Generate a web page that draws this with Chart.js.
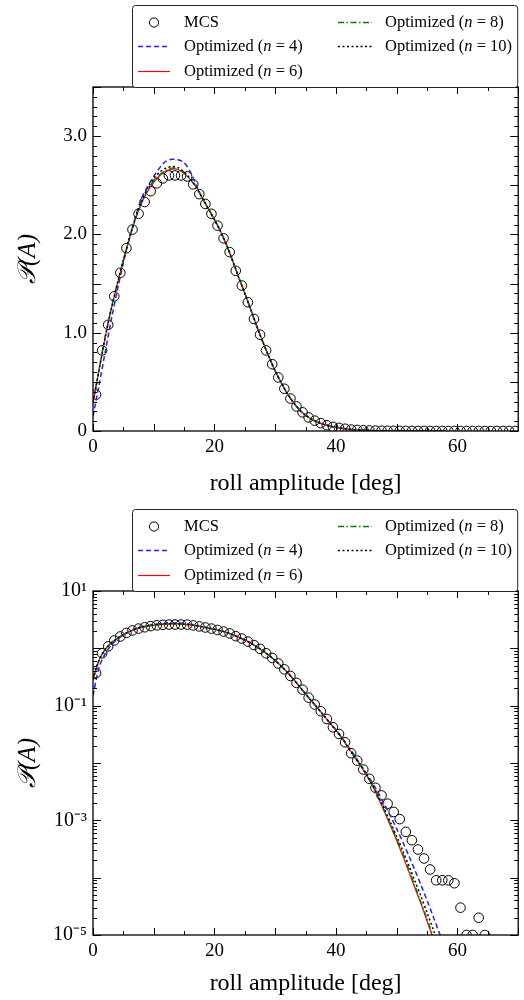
<!DOCTYPE html>
<html>
<head>
<meta charset="utf-8">
<script src="https://cdn.jsdelivr.net/npm/chart.js@4.4.1/dist/chart.umd.min.js"></script>
<style>
  body { margin: 0; background: #fff; }
  .panel { position: absolute; left: 0; width: 524px; height: 500px; }
</style>
</head>
<body>
<div class="panel" style="top:0"><canvas id="linChart"></canvas></div>
<div class="panel" style="top:500px"><canvas id="logChart"></canvas></div>
<script>
// histogram bin centres of the MCS result [deg]
const mcsAmplitude = [
  0.5, 1.5, 2.5, 3.5, 4.5, 5.5, 6.5, 7.5, 8.5, 9.5,
  10.5, 11.5, 12.5, 13.5, 14.5, 15.5, 16.5, 17.5, 18.5, 19.5,
  20.5, 21.5, 22.5, 23.5, 24.5, 25.5, 26.5, 27.5, 28.5, 29.5,
  30.5, 31.5, 32.5, 33.5, 34.5, 35.5, 36.5, 37.5, 38.5, 39.5,
  40.5, 41.5, 42.5, 43.5, 44.5, 45.5, 46.5, 47.5, 48.5, 49.5,
  50.5, 51.5, 52.5, 53.5, 54.5, 55.5, 56.5, 57.5, 58.5, 59.5,
  60.5, 61.5, 62.5, 63.5, 64.5, 65.5, 66.5, 67.5, 68.5, 69.5
];
const mcsDensity = [
  0.37, 0.82, 1.08, 1.37, 1.61, 1.86, 2.05, 2.21, 2.33, 2.44,
  2.52, 2.57, 2.60, 2.60, 2.60, 2.59, 2.51, 2.41, 2.31, 2.21,
  2.09, 1.96, 1.82, 1.63, 1.48, 1.31, 1.14, 0.98, 0.82, 0.68,
  0.545, 0.43, 0.33, 0.25, 0.19, 0.138, 0.105, 0.08, 0.0586, 0.042,
  0.0321, 0.023, 0.0148, 0.011, 0.0077, 0.0053, 0.0037, 0.00272, 0.00195, 0.0014,
  0.00105, 0.00063, 0.00045, 0.00031, 0.000216, 0.000139, 9e-5, 9e-5, 9e-5, 8e-5,
  3e-5, 1e-5, 1e-5, 2e-5, 1e-5, 0, 0, 0, 0, 0
];

// amplitudes where the optimized pdfs are sampled [deg]
const fitAmplitude = [
  0, 1, 2, 3, 4, 5, 6, 7, 8, 9,
  10, 11, 12, 13, 14, 15, 16, 17, 18, 19,
  20, 21, 22, 23, 24, 25, 26, 27, 28, 29,
  30, 31, 32, 33, 34, 35, 36, 37, 38, 39,
  40, 41, 42, 43, 44, 45, 46, 47, 48, 49,
  50, 51, 52, 53, 54, 55, 56, 57, 58
];
const optN4 = [
  0.15, 0.47, 0.80, 1.13, 1.43, 1.71, 1.96, 2.18, 2.37, 2.49,
  2.59, 2.68, 2.745, 2.765, 2.76, 2.73, 2.64, 2.50, 2.37, 2.26,
  2.15, 2.03, 1.89, 1.73, 1.56, 1.40, 1.23, 1.06, 0.90, 0.75,
  0.61, 0.49, 0.38, 0.29, 0.215, 0.16, 0.12, 0.09, 0.067, 0.050,
  0.038, 0.0275, 0.0195, 0.0138, 0.0095, 0.0066, 0.0045, 0.00295, 0.0019, 0.00117,
  0.00071, 0.00042, 0.00024, 0.000135, 7.4e-5, 4.0e-5, 2.1e-5, 1.1e-5, 5.6e-6
];
const optN6 = [
  0.28, 0.62, 0.95, 1.24, 1.49, 1.73, 1.96, 2.16, 2.32, 2.44,
  2.53, 2.60, 2.645, 2.665, 2.66, 2.62, 2.56, 2.48, 2.37, 2.26,
  2.15, 2.03, 1.89, 1.73, 1.56, 1.40, 1.23, 1.06, 0.90, 0.75,
  0.61, 0.49, 0.38, 0.29, 0.215, 0.16, 0.12, 0.09, 0.067, 0.050,
  0.037, 0.027, 0.0186, 0.0129, 0.0091, 0.0062, 0.0040, 0.0024, 0.00138, 0.00079,
  0.00044, 0.00024, 0.000126, 6.6e-5, 3.5e-5, 1.74e-5, 8.7e-6, 4.3e-6, 2e-6
];
const optN8 = [
  0.30, 0.63, 0.96, 1.25, 1.50, 1.74, 1.96, 2.16, 2.32, 2.45,
  2.54, 2.61, 2.655, 2.675, 2.665, 2.625, 2.56, 2.48, 2.37, 2.26,
  2.15, 2.03, 1.89, 1.73, 1.56, 1.40, 1.23, 1.06, 0.90, 0.75,
  0.61, 0.49, 0.38, 0.29, 0.215, 0.16, 0.12, 0.09, 0.067, 0.050,
  0.037, 0.027, 0.0187, 0.0130, 0.0092, 0.0063, 0.0041, 0.0025, 0.00145, 0.00083,
  0.00047, 0.00026, 0.000138, 7.2e-5, 3.7e-5, 1.9e-5, 9.5e-6, 4.7e-6, 2.2e-6
];
const optN10 = [
  0.29, 0.62, 0.95, 1.24, 1.50, 1.74, 1.97, 2.17, 2.34, 2.47,
  2.57, 2.635, 2.675, 2.69, 2.68, 2.635, 2.57, 2.48, 2.37, 2.26,
  2.15, 2.03, 1.89, 1.73, 1.56, 1.40, 1.23, 1.06, 0.90, 0.75,
  0.61, 0.49, 0.38, 0.29, 0.215, 0.16, 0.12, 0.09, 0.067, 0.050,
  0.037, 0.027, 0.0188, 0.0131, 0.0093, 0.0064, 0.0042, 0.00263, 0.00155, 0.00091,
  0.00052, 0.000295, 0.000162, 8.7e-5, 4.7e-5, 2.45e-5, 1.26e-5, 6.3e-6, 3.2e-6
];

// tick labels
const xLabelValues = [0, 20, 40, 60];
const linLabelValues = [0, 1, 2, 3];
const linLabelTexts = ['0', '1.0', '2.0', '3.0'];
const logLabelValues = [1e1, 1e-1, 1e-3, 1e-5];
const logLabelTexts = ['10¹', '10⁻¹', '10⁻³', '10⁻⁵'];

const SERIF = "'Liberation Serif', 'Times New Roman', serif";
Chart.defaults.font.family = SERIF;
Chart.defaults.color = '#000';

function pts(xs, ys, dropZero) {
  return xs.map((x, i) => ({ x: x, y: (dropZero && ys[i] <= 0) ? null : ys[i] }));
}

function makeDatasets(logMode) {
  const curve = (label, ys, color, width, dash, order, slot) => ({
    label: label,
    data: pts(fitAmplitude, ys, false),
    showLine: true,
    borderColor: color,
    borderWidth: width,
    borderDash: dash,
    pointRadius: 0,
    fill: false,
    tension: 0.3,
    clip: 0,
    order: order,
    legendSlot: slot
  });
  return [
    {
      label: 'MCS',
      data: pts(mcsAmplitude, mcsDensity, logMode),
      showLine: false,
      pointStyle: 'circle',
      pointRadius: 4.8,
      pointBorderWidth: 1,
      pointBorderColor: '#000',
      pointBackgroundColor: 'rgba(0,0,0,0)',
      clip: 0,
      order: 5,
      legendSlot: [0, 0]
    },
    curve('Optimized (n = 4)', optN4, '#1f1fff', 1.5, [5, 3], 4, [0, 1]),
    curve('Optimized (n = 6)', optN6, '#ff0000', 1.2, [], 3, [0, 2]),
    curve('Optimized (n = 8)', optN8, '#008000', 1.4, [6, 2.5, 1.5, 2.5], 2, [1, 0]),
    curve('Optimized (n = 10)', optN10, '#000000', 1.5, [2, 2.5], 1, [1, 1])
  ];
}

function isDecade(v) {
  const l = Math.log10(v);
  return Math.abs(l - Math.round(l)) < 1e-6;
}

// inward tick marks on all four sides plus the closed frame
const axisFrame = {
  id: 'axisFrame',
  afterDraw(chart) {
    const { ctx, chartArea: a } = chart;
    const xs = chart.scales.x, ys = chart.scales.y;
    const logMode = ys.type === 'logarithmic';
    ctx.save();
    ctx.strokeStyle = '#000';
    ctx.lineWidth = 1;
    ctx.beginPath();
    xs.ticks.forEach(t => {
      const px = Math.round(xs.getPixelForValue(t.value)) + 0.5;
      const len = t.value % 10 === 0 ? 7 : 4;
      ctx.moveTo(px, a.bottom); ctx.lineTo(px, a.bottom - len);
      ctx.moveTo(px, a.top); ctx.lineTo(px, a.top + len);
    });
    ys.ticks.forEach(t => {
      const py = Math.round(ys.getPixelForValue(t.value)) + 0.5;
      const major = logMode ? isDecade(t.value) : Math.abs(t.value * 2 - Math.round(t.value * 2)) < 1e-6;
      const len = major ? 8 : 4;
      ctx.moveTo(a.left, py); ctx.lineTo(a.left + len, py);
      ctx.moveTo(a.right, py); ctx.lineTo(a.right - len, py);
    });
    ctx.stroke();
    ctx.lineWidth = 1.3;
    ctx.strokeRect(a.left, a.top, a.right - a.left, a.bottom - a.top);
    ctx.restore();
  }
};

// two-column legend box sitting on top of the plot frame
const boxLegend = {
  id: 'boxLegend',
  afterDraw(chart) {
    const { ctx, chartArea: a } = chart;
    const boxL = 132, boxR = a.right - 1, boxB = a.top, boxT = a.top - 82;
    const rows = [16.5, 41, 66];
    const cols = [{ l0: 138, l1: 170, tx: 184 }, { l0: 338, l1: 372, tx: 385 }];
    ctx.save();
    ctx.fillStyle = '#fff';
    ctx.strokeStyle = '#222';
    ctx.lineWidth = 1;
    ctx.beginPath();
    ctx.roundRect(boxL + 0.5, boxT + 0.5, boxR - boxL, boxB - boxT, 3);
    ctx.fill();
    ctx.stroke();
    chart.data.datasets.forEach(ds => {
      const c = cols[ds.legendSlot[0]];
      const y = Math.round(boxT + rows[ds.legendSlot[1]]) + 0.5;
      if (ds.showLine) {
        ctx.beginPath();
        ctx.strokeStyle = ds.borderColor;
        ctx.lineWidth = ds.borderWidth;
        ctx.setLineDash(ds.borderDash);
        ctx.moveTo(c.l0, y); ctx.lineTo(c.l1, y);
        ctx.stroke();
        ctx.setLineDash([]);
      } else {
        ctx.beginPath();
        ctx.strokeStyle = '#000';
        ctx.lineWidth = 1;
        ctx.arc((c.l0 + c.l1) / 2, y, 4.6, 0, Math.PI * 2);
        ctx.stroke();
      }
      ctx.fillStyle = '#000';
      ctx.textBaseline = 'middle';
      ctx.textAlign = 'left';
      let x = c.tx;
      ds.label.split(/\b(n)\b/).forEach(part => {
        ctx.font = (part === 'n' ? 'italic ' : '') + '16.5px ' + SERIF;
        ctx.fillText(part, x, y);
        x += ctx.measureText(part).width;
      });
    });
    ctx.restore();
  }
};

function xAxis() {
  return {
    type: 'linear',
    min: 0,
    max: 70,
    grid: { display: false, drawTicks: false },
    border: { display: false },
    ticks: {
      stepSize: 5,
      autoSkip: false,
      maxRotation: 0,
      padding: 5,
      font: { size: 19 },
      callback: v => xLabelValues.includes(v) ? String(v) : ''
    },
    title: { display: true, text: 'roll amplitude [deg]', font: { size: 24 }, padding: { top: 0, bottom: 2 } },
    afterFit(scale) { scale.height = scale.chart.height - scale.chart.options.layout.padding.top - 344; }
  };
}

const yTitle = { display: true, text: '𝒫(A)', font: { size: 25, style: 'italic' }, padding: { top: 13, bottom: 0 } };

new Chart(document.getElementById('linChart'), {
  type: 'scatter',
  data: { datasets: makeDatasets(false) },
  options: {
    responsive: true,
    maintainAspectRatio: false,
    animation: false,
    devicePixelRatio: 1,
    layout: { padding: { top: 87, right: 5, left: 0, bottom: 0 } },
    plugins: { legend: { display: false }, tooltip: { enabled: false } },
    scales: {
      x: xAxis(),
      y: {
        type: 'linear',
        min: 0,
        max: 3.5,
        grid: { display: false, drawTicks: false },
        border: { display: false },
        ticks: {
          stepSize: 0.1,
          autoSkip: false,
          padding: 6,
          font: { size: 19 },
          callback: v => {
            const i = linLabelValues.findIndex(t => Math.abs(t - v) < 1e-6);
            return i < 0 ? '' : linLabelTexts[i];
          }
        },
        title: yTitle,
        afterFit(scale) { scale.width = 93; }
      }
    }
  },
  plugins: [axisFrame, boxLegend]
});

new Chart(document.getElementById('logChart'), {
  type: 'scatter',
  data: { datasets: makeDatasets(true) },
  options: {
    responsive: true,
    maintainAspectRatio: false,
    animation: false,
    devicePixelRatio: 1,
    layout: { padding: { top: 91, right: 5, left: 0, bottom: 0 } },
    plugins: { legend: { display: false }, tooltip: { enabled: false } },
    scales: {
      x: xAxis(),
      y: {
        type: 'logarithmic',
        min: 1e-5,
        max: 10,
        grid: { display: false, drawTicks: false },
        border: { display: false },
        afterBuildTicks(scale) {
          const t = [];
          for (let e = -5; e <= 1; e++) {
            for (let m = 1; m <= 9; m++) {
              const v = m * Math.pow(10, e);
              if (v <= 10.0000001) t.push({ value: v });
            }
          }
          scale.ticks = t;
        },
        ticks: {
          autoSkip: false,
          padding: 6,
          font: { size: 20 },
          callback: v => {
            const i = logLabelValues.findIndex(t => Math.abs(v / t - 1) < 1e-6);
            return i < 0 ? '' : logLabelTexts[i];
          }
        },
        title: yTitle,
        afterFit(scale) { scale.width = 93; }
      }
    }
  },
  plugins: [axisFrame, boxLegend]
});
</script>
</body>
</html>
